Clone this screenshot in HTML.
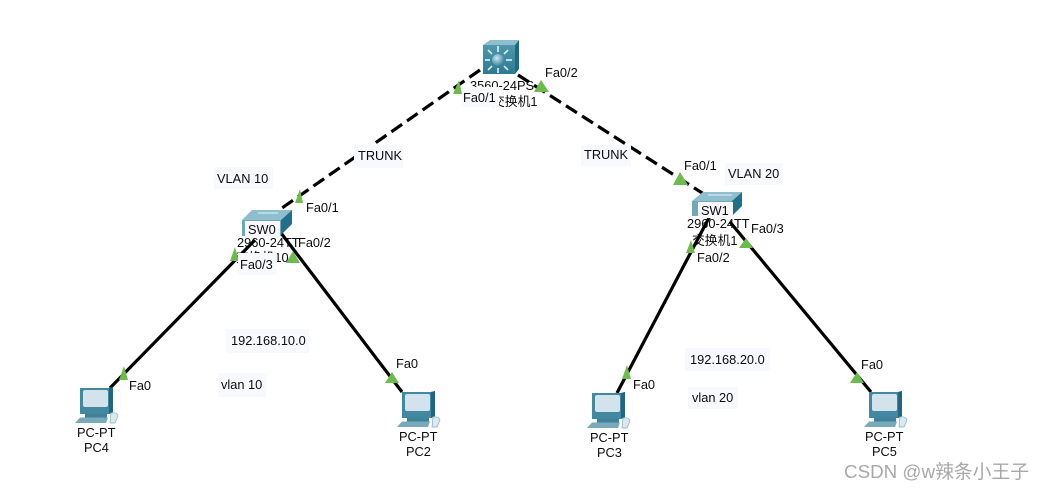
<!DOCTYPE html>
<html><head><meta charset="utf-8"><style>
html,body{margin:0;padding:0;background:#fff;width:1043px;height:491px;overflow:hidden}
svg{display:block}
text{font-family:"Liberation Sans","Noto Sans CJK SC",sans-serif;font-size:12.8px;fill:#0c0c0c}
</style></head><body>
<svg width="1043" height="491" viewBox="0 0 1043 491" xmlns="http://www.w3.org/2000/svg">
<defs>
<radialGradient id="sph" cx="40%" cy="35%" r="70%"><stop offset="0" stop-color="#cfe6ee"/><stop offset="1" stop-color="#2f7f97"/></radialGradient>
<linearGradient id="fr" x1="0" y1="0" x2="0" y2="1"><stop offset="0" stop-color="#4f98ae"/><stop offset="1" stop-color="#2c7a92"/></linearGradient>
<g id="pc">
<polygon points="5,1 34,1 38,0 38,25 34,27 5,27" fill="#4288a0"/>
<polygon points="34,1 38,0 38,25 34,27" fill="#1f667e"/>
<rect x="8" y="3" width="25" height="17" rx="2" fill="#d3e3ec"/>
<rect x="10" y="27" width="22" height="3.500" fill="#3f8199"/>
<polygon points="5,30.500 33,30.500 31,36 0,36" fill="#78aabc"/>
<path d="M36,26 q6,-1 7,3 l-3,7 h-5z" fill="#dbe8ee" stroke="#7fadbe" stroke-width=".7"/>
</g>
</defs>
<!-- device labels under links -->
<text x="470" y="90">3560-24PS</text>
<text x="492" y="106">交换机1</text>
<text x="237" y="247">2960-24TT</text>
<text x="236" y="262">交换机10</text>
<text x="687" y="228">2960-24TT</text>
<text x="692" y="245">交换机1</text>
<!-- links -->
<g stroke="#000" stroke-width="3.200" fill="none">
<line x1="480" y1="70" x2="282" y2="208" stroke-dasharray="13,6"/>
<line x1="518" y1="75" x2="710" y2="198" stroke-dasharray="13,6"/>
<line x1="255" y1="240" x2="110" y2="388"/>
<line x1="281" y1="233" x2="402" y2="392"/>
<line x1="712" y1="212" x2="617" y2="393"/>
<line x1="730" y1="222" x2="871" y2="392"/>
</g>
<g fill="#6dbb4c">
<polygon points="459,80 453,94 462,94"/>
<polygon points="541,80 534,92 549,92"/>
<polygon points="300,189 295,203 303,203"/>
<polygon points="680,172 673,185 688,185"/>
<polygon points="235,247 230,261 239,261"/>
<polygon points="293,251 286,263 300,263"/>
<polygon points="691,240 686,253 695,253"/>
<polygon points="746,238 739,248 753,248"/>
<polygon points="124,366 119,380 128,380"/>
<polygon points="392,372 385,383 399,383"/>
<polygon points="627,365 622,379 631,379"/>
<polygon points="857,372 850,383 864,383"/>
</g>
<!-- core switch -->
<polygon points="483,45 490,40 519,40 515,45" fill="#8cc0cf"/>
<polygon points="515,45 519,40 519,69 515,74" fill="#1f6a82"/>
<rect x="483" y="45" width="32" height="29" fill="url(#fr)"/>
<circle cx="498" cy="60" r="6" fill="url(#sph)"/>
<g stroke="#f2f8fa" stroke-width="1.500">
<line x1="498" y1="46" x2="498" y2="52"/><line x1="498" y1="68" x2="498" y2="73"/>
<line x1="485" y1="60" x2="490" y2="60"/><line x1="506" y1="60" x2="512" y2="60"/>
<line x1="488" y1="50" x2="492" y2="54"/><line x1="508" y1="50" x2="504" y2="54"/>
<line x1="488" y1="70" x2="492" y2="66"/><line x1="508" y1="70" x2="504" y2="66"/>
</g>
<!-- SW0 -->
<polygon points="242,220 252,210 292,210 281,220" fill="#8fbfce"/>
<polygon points="281,220 292,210 292,224 281,235" fill="#1f7088"/>
<rect x="242" y="220" width="39" height="16" fill="#6fa8bb"/>
<line x1="258" y1="213" x2="278" y2="213" stroke="#e6f1f4" stroke-width="1"/>
<!-- SW1 -->
<polygon points="692,201 703,192 742,192 732,201" fill="#8fbfce"/>
<polygon points="732,201 742,192 742,206 732,216" fill="#1f7088"/>
<rect x="692" y="201" width="40" height="15" fill="#6fa8bb"/>
<line x1="708" y1="195" x2="732" y2="195" stroke="#e6f1f4" stroke-width="1"/>
<!-- PCs -->
<use href="#pc" x="75" y="387"/>
<use href="#pc" x="397" y="391"/>
<use href="#pc" x="587" y="392"/>
<use href="#pc" x="864" y="391"/>
<!-- switch name labels -->
<rect x="245" y="221" width="35" height="17" fill="#f9f8ff"/>
<rect x="698" y="202" width="35" height="16" fill="#f9f8ff"/>
<text x="248" y="234">SW0</text>
<text x="701" y="215">SW1</text>
<!-- label backgrounds -->
<g fill="#f8f8ff">
<rect x="214" y="167" width="59" height="22"/>
<rect x="354" y="145" width="49" height="23"/>
<rect x="581" y="145" width="50" height="21"/>
<rect x="725" y="163" width="58" height="22"/>
<rect x="226" y="329" width="83" height="24"/>
<rect x="218" y="373" width="48" height="24"/>
<rect x="685" y="348" width="85" height="23"/>
<rect x="688" y="387" width="50" height="22"/>
<rect x="462" y="87" width="37" height="20"/>
<rect x="238" y="253" width="39" height="22"/>
</g>
<text x="217" y="183">VLAN 10</text>
<text x="358" y="160">TRUNK</text>
<text x="584" y="159">TRUNK</text>
<text x="728" y="178">VLAN 20</text>
<text x="231" y="345">192.168.10.0</text>
<text x="221" y="389">vlan 10</text>
<text x="690" y="364">192.168.20.0</text>
<text x="692" y="402">vlan 20</text>
<!-- port labels -->
<text x="545" y="77">Fa0/2</text>
<text x="463" y="102">Fa0/1</text>
<text x="306" y="212">Fa0/1</text>
<text x="298" y="247">Fa0/2</text>
<text x="240" y="269">Fa0/3</text>
<text x="684" y="170">Fa0/1</text>
<text x="751" y="233">Fa0/3</text>
<text x="697" y="262">Fa0/2</text>
<text x="129" y="390">Fa0</text>
<text x="396" y="368">Fa0</text>
<text x="633" y="389">Fa0</text>
<text x="861" y="369">Fa0</text>
<!-- PC labels -->
<text x="77" y="437">PC-PT</text>
<text x="84" y="452">PC4</text>
<text x="399" y="441">PC-PT</text>
<text x="406" y="456">PC2</text>
<text x="590" y="442">PC-PT</text>
<text x="597" y="457">PC3</text>
<text x="865" y="441">PC-PT</text>
<text x="872" y="456">PC5</text>
<text x="844" y="478" style="font-size:18.800px;fill:#a8a8a8">CSDN @w辣条小王子</text>
</svg>
</body></html>
